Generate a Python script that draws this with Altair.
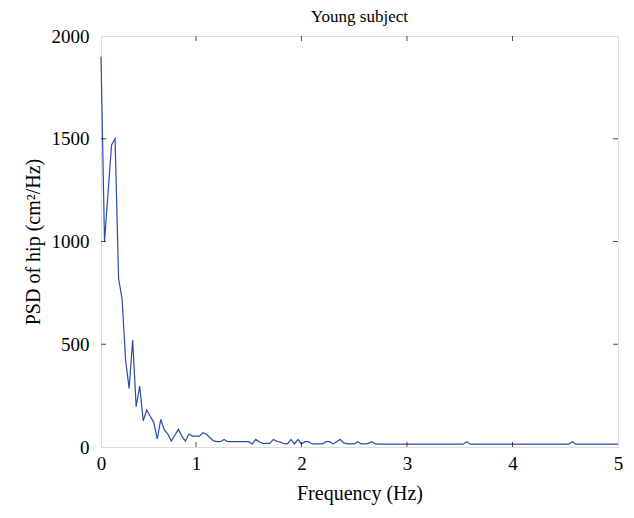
import altair as alt
import pandas as pd

# PSD values (cm^2/Hz), one per frequency bin
psd = [
    1900, 1000, 1235, 1470, 1500, 820, 720, 420, 285, 520,
    196, 296, 128, 180, 150, 120, 39, 134, 83, 63,
    29, 57, 86, 53, 29, 63, 53, 53, 53, 70,
    62, 45, 30, 26, 26, 37, 26, 26, 26, 26,
    26, 26, 26, 15, 37, 26, 17, 18, 18, 37,
    28, 24, 16, 15, 37, 15, 37, 15, 26, 26,
    15, 15, 15, 15, 26, 26, 15, 25, 37, 20,
    15, 15, 15, 26, 15, 15, 18, 26, 15, 14,
    14, 14, 14, 14, 14, 14, 14, 14, 14, 14,
    14, 14, 14, 14, 14, 14, 14, 14, 14, 14,
    14, 14, 14, 14, 26, 14, 14, 14, 14, 14,
    14, 14, 14, 14, 14, 14, 14, 14, 14, 14,
    14, 14, 14, 14, 14, 14, 14, 14, 14, 14,
    14, 14, 14, 14, 26, 14, 14, 14, 14, 14,
    14, 14, 14, 14, 14, 14, 14, 14,
]
f_start = 0.1
f_step = 1 / 30
freq = [round(f_start + i * f_step, 5) for i in range(len(psd))]

x_ticks = [0.1, 1, 2, 3, 4, 5]
y_ticks = [0, 500, 1000, 1500, 2000]
inner_x = [1, 2, 3, 4]
inner_y = [500, 1000, 1500]

df = pd.DataFrame({"f": freq, "psd": psd})
tx = pd.DataFrame({"t": inner_x})
ty = pd.DataFrame({"t": inner_y})

FONT = "Liberation Serif"
xscale = alt.Scale(domain=[0.1, 5], nice=False, zero=False)
yscale = alt.Scale(domain=[0, 2000], nice=False)

xaxis = alt.Axis(
    values=x_ticks,
    labelExpr="datum.value < 0.5 ? '0' : format(datum.value, 'd')",
    title="Frequency (Hz)",
    ticks=False, domain=False, grid=False,
    labelFont=FONT, labelFontSize=19, labelColor="black", labelPadding=7,
    titleFont=FONT, titleFontSize=20, titleFontWeight="normal", titleColor="black",
    titlePadding=10, labelFlush=False,
)
yaxis = alt.Axis(
    values=y_ticks, format="d",
    title="PSD of hip (cm²/Hz)",
    ticks=False, domain=False, grid=False,
    labelFont=FONT, labelFontSize=19, labelColor="black", labelPadding=12,
    titleFont=FONT, titleFontSize=20, titleFontWeight="normal", titleColor="black",
    titlePadding=8, labelFlush=False,
)

line = alt.Chart(df).mark_line(color="#2a4ca8", strokeWidth=1.2).encode(
    x=alt.X("f:Q", scale=xscale, axis=xaxis),
    y=alt.Y("psd:Q", scale=yscale, axis=yaxis),
)

tick_style = dict(color="black", thickness=1, size=5)
bottom = alt.Chart(tx).mark_tick(orient="vertical", yOffset=-2.5, **tick_style).encode(
    x=alt.X("t:Q", scale=xscale), y=alt.datum(0, scale=yscale))
top = alt.Chart(tx).mark_tick(orient="vertical", yOffset=2.5, **tick_style).encode(
    x=alt.X("t:Q", scale=xscale), y=alt.datum(2000, scale=yscale))
left = alt.Chart(ty).mark_tick(orient="horizontal", xOffset=2.5, **tick_style).encode(
    y=alt.Y("t:Q", scale=yscale), x=alt.datum(0.1, scale=xscale))
right = alt.Chart(ty).mark_tick(orient="horizontal", xOffset=-2.5, **tick_style).encode(
    y=alt.Y("t:Q", scale=yscale), x=alt.datum(5, scale=xscale))

chart = alt.layer(line, bottom, top, left, right).properties(
    width=517,
    height=411,
    title=alt.TitleParams("Young subject", font=FONT, fontSize=17, fontWeight="normal",
                          color="black", anchor="middle", offset=1),
    autosize=alt.AutoSizeParams(type="none"),
    padding={"left": 93, "top": 28, "right": 8, "bottom": 60},
).configure_view(stroke="black", strokeWidth=1).configure(background="white")

chart.save("out.html", embed_options={"renderer": "svg", "actions": False})
